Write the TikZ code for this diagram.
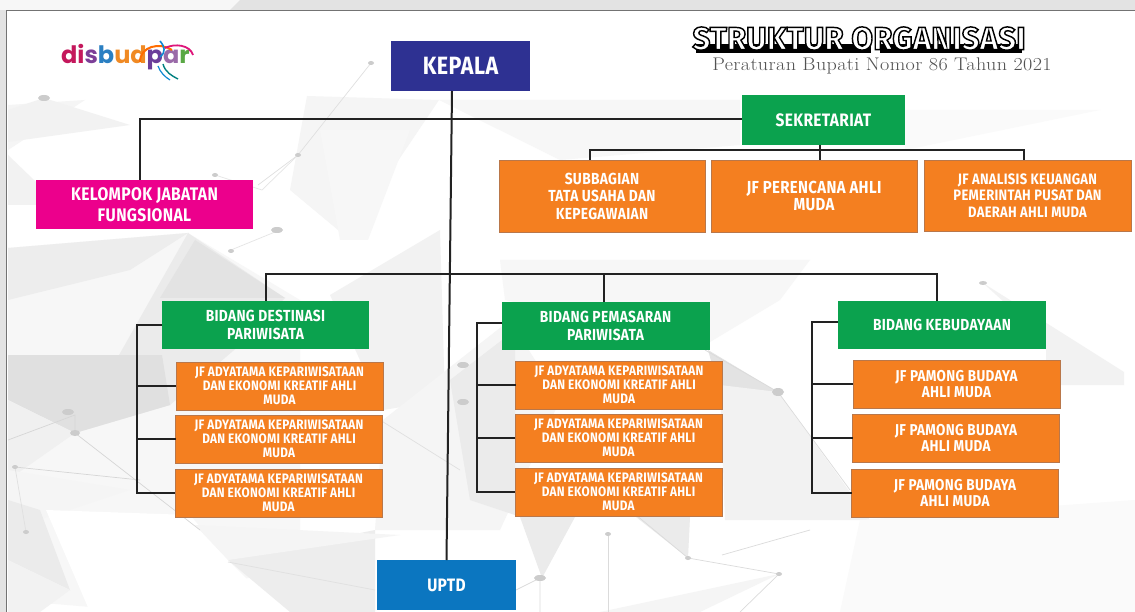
\documentclass[tikz,border=0pt]{standalone}
\usepackage{fontspec}
\setmainfont{Fira Sans}[BoldFont=* Bold]
\newfontfamily\boxf{Fira Sans Bold}[FakeStretch=0.86,LetterSpace=2]
\newfontfamily\titlef{Fira Sans Bold}[LetterSpace=0.5,FakeBold=4.5,FakeStretch=0.98]
\newfontfamily\subf{Latin Modern Roman}[LetterSpace=2,FakeStretch=1.1]
\newfontfamily\logof{Poppins Bold}
\definecolor{cnavy}{HTML}{2E3192}
\definecolor{cgreen}{HTML}{0BA24E}
\definecolor{corange}{HTML}{F47F20}
\definecolor{cedge}{HTML}{B9774A}
\definecolor{cpink}{HTML}{EC008C}
\definecolor{cblue}{HTML}{0B76C0}
\definecolor{cline}{HTML}{222222}
\tikzset{
  orgbox/.style={rectangle,inner sep=0pt,outer sep=0pt,align=center,text=white,font=\boxf},
  bigbox/.style={orgbox,font=\boxf\fontsize{25}{28}\selectfont,minimum height=50pt,minimum width=139pt},
  headbox/.style={orgbox,font=\boxf\fontsize{16}{17.5}\selectfont},
  midbox/.style={orgbox,fill=corange,draw=cedge,line width=.5pt,font=\boxf\fontsize{16}{17.5}\selectfont},
  subbox/.style={orgbox,fill=corange,draw=cedge,line width=.5pt,minimum width=207pt,minimum height=48pt,font=\boxf\fontsize{13.7}{14}\selectfont},
  pamong/.style={subbox,font=\boxf\fontsize{15.7}{16.8}\selectfont},
  link/.style={draw=cline,line width=2pt,line join=miter},
  bgline/.style={draw=#1,line width=.7pt},
}
\begin{document}
\begin{tikzpicture}[x=1pt,y=-1pt]
\useasboundingbox (0,0) rectangle (1135,612);
% page and frame
\fill[white] (0,0) rectangle (1135,612);
\fill[gray!22] (0,0) rectangle (1135,10);
\fill[gray!22] (0,0) rectangle (6,612);
\fill[white!94!gray] (0,0) -- (240,0) -- (230,10) -- (0,10) -- cycle;
% background low-poly, left
\fill[black!4] (8,105) -- (85,100) -- (8,150) -- cycle;
\fill[black!5] (8,110) -- (44,98) -- (130,125) -- (8,142) -- cycle;
\fill[black!5] (8,155) -- (60,205) -- (8,205) -- cycle;
\fill[black!4] (307,96) -- (439,100) -- (375,195) -- (350,240) -- (290,190) -- cycle;
\fill[black!3] (320,130) -- (410,130) -- (368,240) -- (340,240) -- cycle;
\fill[black!3] (439,100) -- (740,100) -- (740,145) -- (560,160) -- cycle;
\fill[black!2] (905,110) -- (1100,110) -- (905,150) -- cycle;
\fill[black!3] (8,600) -- (8,248) -- (188,233) -- (300,300) -- (300,560) -- (150,612) -- cycle;
\fill[black!7] (8,248) -- (188,233) -- (130,270) -- (8,300) -- cycle;
\fill[black!8] (188,233) -- (75,433) -- (170,405) -- (240,345) -- (285,298) -- cycle;
\fill[black!11] (195,240) -- (285,298) -- (160,298) -- cycle;
\fill[black!12] (8,355) -- (162,355) -- (170,405) -- (75,433) -- (8,400) -- cycle;
\fill[black!6] (8,400) -- (75,433) -- (8,480) -- cycle;
\fill[black!4] (8,470) -- (130,490) -- (8,530) -- cycle;
\fill[black!8] (8,500) -- (40,510) -- (70,590) -- (8,560) -- cycle;
\fill[black!5] (8,560) -- (70,590) -- (40,612) -- (8,612) -- cycle;
\fill[white] (46,510) -- (190,515) -- (228,560) -- (280,612) -- (90,612) -- cycle;
\fill[black!7] (228,560) -- (375,530) -- (375,612) -- (290,612) -- cycle;
\fill[black!4] (195,525) -- (400,535) -- (228,560) -- cycle;
\fill[black!5] (330,295) -- (440,230) -- (445,400) -- (383,410) -- cycle;
\fill[black!4] (383,420) -- (510,320) -- (560,400) -- (500,530) -- (375,530) -- cycle;
\fill[black!8] (450,380) -- (515,330) -- (515,515) -- (470,500) -- cycle;
% background low-poly, right
\fill[black!3] (500,260) -- (810,260) -- (780,300) -- (705,345) -- (505,300) -- cycle;
\fill[black!11] (708,350) -- (778,392) -- (725,480) -- (722,400) -- cycle;
\fill[black!5] (720,385) -- (778,392) -- (870,520) -- (725,520) -- cycle;
\fill[black!8] (520,517) -- (575,517) -- (542,578) -- cycle;
\fill[black!8] (636,517) -- (690,517) -- (688,558) -- cycle;
\fill[black!4] (600,612) -- (779,574) -- (700,612) -- cycle;
\fill[black!5] (983,283) -- (1124,372) -- (1124,385) -- (1046,385) -- (1046,340) -- cycle;
\fill[black!2] (860,520) -- (1135,500) -- (1135,612) -- (840,612) -- cycle;
% background lines and dots
\draw[bgline=black!12] (371,63) -- (298,155) -- (258,185);
\draw[bgline=black!10] (298,155) -- (262,190) -- (215,175);
\draw[bgline=black!10] (275,232) -- (231,250);
\draw[bgline=black!16] (8,440) -- (75,415) -- (75,433) -- (200,530);
\draw[bgline=black!16] (15,467) -- (140,480);
\draw[bgline=black!12] (15,467) -- (26,532);
\draw[bgline=black!12] (228,562) -- (375,590);
\draw[bgline=black!14] (608,612) -- (608,534);
\draw[bgline=black!14] (688,558) -- (779,574) -- (740,612);
\draw[bgline=black!14] (688,558) -- (630,510);
\draw[bgline=black!14] (540,612) -- (540,578) -- (516,590);
\draw[bgline=black!14] (705,350) -- (778,392) -- (850,490);
\draw[bgline=black!14] (722,555) -- (810,530);
\draw[bgline=black!12] (460,470) -- (380,420);
\foreach \px/\py/\rx/\ry in {371/63/3/2,298/155/3/2,44/98/6/3,215/175/3/2,277/230/6/3,231/251/3/2,75/433/5/3,68/412/6/3,15/467/3/2,26/532/3/2,540/578/6/3,608/534/3/2,688/558/3/2,779/574/3/2,778/392/6/4,983/283/4/2,463/365/6/3,463/402/6/3}
  \fill[black!20] (\px,\py) ellipse [x radius=\rx,y radius=\ry];
% frame lines
\draw[black!55,line width=.9pt] (6.5,612) -- (6.5,10.5) -- (1135,10.5);
% logo
\node[inner sep=0pt,anchor=west,font=\logof\fontsize{24}{24}\selectfont] (logo) at (61,57)
  {\textcolor[HTML]{C4185C}{di}\textcolor[HTML]{7C3F98}{s}\textcolor[HTML]{2A7FC2}{b}\textcolor[HTML]{F08A24}{ud}\textcolor[HTML]{6A3D9A}{p}\textcolor[HTML]{9A6AA8}{a}\textcolor[HTML]{5AA845}{r}};
\draw[line width=2pt,color=orange!85!red] (140,62) .. controls (140,46) and (160,42) .. (172,50);
\draw[line width=1.6pt,color=cyan!70!blue] (160,41) .. controls (165,47) and (166,52) .. (160,57);
\draw[line width=1.8pt,color=magenta!70!purple] (165,48) .. controls (175,43) and (190,45) .. (193,55);
\draw[line width=1.4pt,color=teal] (163,64) .. controls (165,72) and (172,76) .. (178,79);
\draw[line width=1.2pt,color=cyan!70!blue] (158,66) .. controls (160,72) and (165,77) .. (170,80);
% title
\fill[black] (696,44) rectangle (871,53);
\fill[black] (880,44) rectangle (1022,53);
\node[inner sep=0pt,anchor=center,font=\titlef\fontsize{32}{32}\selectfont] (title) at (859,38.5)
  {\special{pdf:bcolor [1 1 1] [0 0 0]}STRUKTUR ORGANISASI\special{pdf:ecolor}};
\node[inner sep=0pt,anchor=center,text=black!68,font=\subf\fontsize{18.3}{20}\selectfont] (subt) at (882,66) {Peraturan Bupati Nomor 86 Tahun 2021};
% boxes
\node[bigbox,fill=cnavy] (kepala) at (460.5,66) {KEPALA};
\node[headbox,fill=cpink,minimum width=217pt,minimum height=49pt,font=\boxf\fontsize{18.2}{21}\selectfont] (pokja) at (144.5,204.5) {KELOMPOK JABATAN\\FUNGSIONAL};
\node[headbox,fill=cgreen,minimum width=163pt,minimum height=50pt,font=\boxf\fontsize{18}{20}\selectfont] (sek) at (823.5,120) {SEKRETARIAT};
\node[midbox,minimum width=206pt,minimum height=72pt] (sub) at (602,196) {SUBBAGIAN\\TATA USAHA DAN\\KEPEGAWAIAN};
\node[midbox,minimum width=206pt,minimum height=72pt,font=\boxf\fontsize{17.4}{17.5}\selectfont] (per) at (814,196) {JF PERENCANA AHLI\\MUDA};
\node[midbox,minimum width=207pt,minimum height=71pt,font=\boxf\fontsize{15.1}{16.5}\selectfont] (ana) at (1027.5,195.5) {JF ANALISIS KEUANGAN\\PEMERINTAH PUSAT DAN\\DAERAH AHLI MUDA};
\node[headbox,fill=cgreen,minimum width=207pt,minimum height=48pt] (des) at (265.5,325) {BIDANG DESTINASI\\PARIWISATA};
\node[headbox,fill=cgreen,minimum width=208pt,minimum height=48pt] (pem) at (605.5,326) {BIDANG PEMASARAN\\PARIWISATA};
\node[headbox,fill=cgreen,minimum width=208pt,minimum height=48pt] (keb) at (942,325) {BIDANG KEBUDAYAAN};
\node[subbox] (d1) at (279.5,386) {JF ADYATAMA KEPARIWISATAAN\\DAN EKONOMI KREATIF AHLI\\MUDA};
\node[subbox] (d2) at (279,439) {JF ADYATAMA KEPARIWISATAAN\\DAN EKONOMI KREATIF AHLI\\MUDA};
\node[subbox] (d3) at (278.5,493) {JF ADYATAMA KEPARIWISATAAN\\DAN EKONOMI KREATIF AHLI\\MUDA};
\node[subbox] (p1) at (619,385) {JF ADYATAMA KEPARIWISATAAN\\DAN EKONOMI KREATIF AHLI\\MUDA};
\node[subbox] (p2) at (618.5,438) {JF ADYATAMA KEPARIWISATAAN\\DAN EKONOMI KREATIF AHLI\\MUDA};
\node[subbox] (p3) at (618.5,492) {JF ADYATAMA KEPARIWISATAAN\\DAN EKONOMI KREATIF AHLI\\MUDA};
\node[pamong] (k1) at (956.5,384) {JF PAMONG BUDAYA\\AHLI MUDA};
\node[pamong] (k2) at (956,438) {JF PAMONG BUDAYA\\AHLI MUDA};
\node[pamong] (k3) at (955,493) {JF PAMONG BUDAYA\\AHLI MUDA};
\node[bigbox,fill=cblue,font=\boxf\fontsize{18}{20}\selectfont] (uptd) at (446.5,585) {UPTD};
% connectors
\coordinate (busS) at (820,150);
\coordinate (busB) at (604,274);
\draw[link] ([xshift=-8.5pt]kepala.south) -- (uptd.north);
\draw[link] ([xshift=-4.5pt]pokja.north) |- ([yshift=1pt]sek.west);
\draw[link] ([xshift=-3.5pt]sek.south) -- ([xshift=6pt]per.north);
\draw[link] ([xshift=-12pt]sub.north) |- (busS) -| ([xshift=-3.5pt]ana.north);
\draw[link] (des.north) |- (busB) -| ([xshift=-5pt]keb.north);
\draw[link] (busB) -- ([xshift=-1.5pt]pem.north);
\draw[link] (des.west) -| (136.5,493) -- (d3.west);
\draw[link] (d1.west) -- (136.5,386);
\draw[link] (d2.west) -- (136.5,439);
\draw[link] ([yshift=3pt]pem.west) -| (476.5,492) -- (p3.west);
\draw[link] (p1.west) -- (476.5,385);
\draw[link] (p2.west) -- (476.5,438);
\draw[link] ([yshift=3pt]keb.west) -| (812,493) -- (k3.west);
\draw[link] (k1.west) -- (812,384);
\draw[link] (k2.west) -- (812,438);
\end{tikzpicture}
\end{document}
